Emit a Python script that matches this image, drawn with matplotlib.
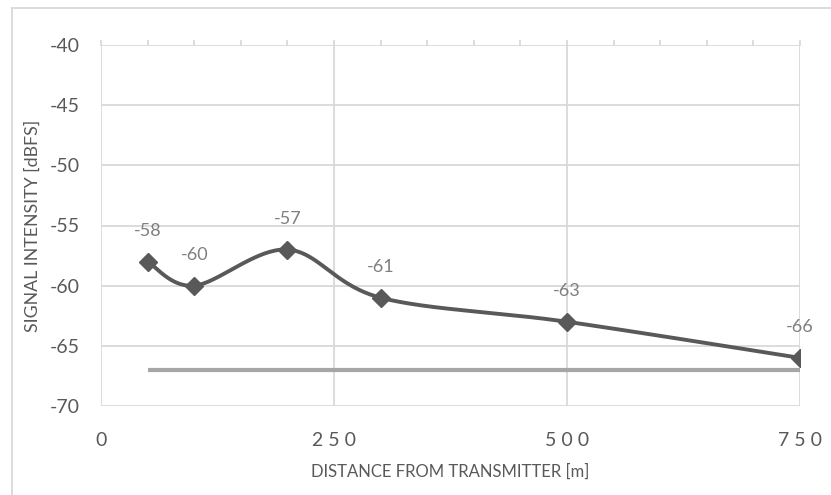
import numpy as np
import matplotlib
matplotlib.use("Agg")
import matplotlib.pyplot as plt
from matplotlib.lines import Line2D

plt.rcParams['font.family'] = ['Lato', 'DejaVu Sans']
plt.rcParams['axes.unicode_minus'] = False

distance_m = [50, 100, 200, 300, 500, 750]
signal_dbfs = [-58, -60, -57, -61, -63, -66]
threshold_x = [50, 750]
threshold_dbfs = [-67, -67]
x_ticks = [0, 250, 500, 750]
y_ticks = [-70, -65, -60, -55, -50, -45, -40]

W, H, DPI = 831, 495, 100
fig = plt.figure(figsize=(W / DPI, H / DPI), dpi=DPI)
ax = fig.add_axes([101 / W, 1 - 406 / H, 699 / W, 361 / H])
ax.set_xlim(0, 750)
ax.set_ylim(-70, -40)

grid_c = '#d9d9d9'
text_c = '#595959'
line_c = '#595959'

for s in ax.spines.values():
    s.set_visible(False)
ax.set_xticks(x_ticks)
ax.set_yticks(y_ticks)
ax.tick_params(length=0, labelsize=14, colors=text_c)
ax.set_xticklabels([' '.join(str(v)) for v in x_ticks])
ax.tick_params(axis='y', pad=15)
ax.tick_params(axis='x', pad=19)
ax.grid(True, color=grid_c, linewidth=1.3)
ax.set_axisbelow(True)

# minor tick marks on the top edge every 50 m
for xv in range(0, 751, 50):
    ax.plot([xv, xv], [1.0, 1.0 + 0.012], transform=ax.get_xaxis_transform(),
            color=grid_c, lw=1.3, clip_on=False, zorder=1)

# threshold line
ax.plot(threshold_x, threshold_dbfs, color='#a6a6a6', lw=3, solid_capstyle='butt', zorder=2)

# smoothed series (Catmull-Rom Bezier in display space)
fig.canvas.draw()
pts = ax.transData.transform(np.column_stack([distance_m, signal_dbfs]))
curve = []
n = len(pts)
for i in range(n - 1):
    p0 = pts[max(i - 1, 0)]
    p1 = pts[i]
    p2 = pts[i + 1]
    p3 = pts[min(i + 2, n - 1)]
    c1 = p1 + (p2 - p0) / 6.0
    c2 = p2 - (p3 - p1) / 6.0
    t = np.linspace(0, 1, 40)[:, None]
    seg = ((1 - t) ** 3) * p1 + 3 * ((1 - t) ** 2) * t * c1 + 3 * (1 - t) * t ** 2 * c2 + t ** 3 * p2
    curve.append(seg if i == 0 else seg[1:])
curve = ax.transData.inverted().transform(np.vstack(curve))
ax.plot(curve[:, 0], curve[:, 1], color=line_c, lw=2.8, zorder=3, solid_capstyle='round')
ax.plot(distance_m, signal_dbfs, linestyle='none', marker='D', markersize=9.5,
        color=line_c, zorder=4)

for xv, yv in zip(distance_m, signal_dbfs):
    ax.annotate(str(yv), (xv, yv), xytext=(0, 22), textcoords='offset points',
                ha='center', va='center', fontsize=13, color='#7f7f7f')

ax.set_xlabel('DISTANCE FROM TRANSMITTER [m]', fontsize=12, color=text_c)
ax.set_ylabel('SIGNAL INTENSITY [dBFS]', fontsize=12.8, color=text_c)
ax.xaxis.set_label_coords(0.5, (406 - 464) / 361)
ax.yaxis.set_label_coords((41 - 101) / 699, 0.5)

# outer chart frame
fig.add_artist(Line2D([12 / W, 12 / W], [0, 1 - 8 / H], transform=fig.transFigure,
                      color=grid_c, lw=1.3))
fig.add_artist(Line2D([12 / W, 1], [1 - 8 / H, 1 - 8 / H], transform=fig.transFigure,
                      color=grid_c, lw=1.3))

fig.savefig('out.png', dpi=DPI)
